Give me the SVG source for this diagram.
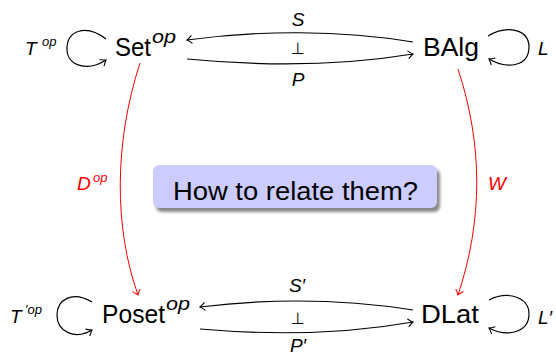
<svg xmlns="http://www.w3.org/2000/svg" width="556" height="357" viewBox="0 0 556 357">
<style>
.node{font-family:"Liberation Sans",Arial,sans-serif;font-size:26px;fill:#000}
.sup{font-family:"Liberation Sans",Arial,sans-serif;font-size:18px;font-style:italic;fill:#000}
.lab{font-family:"Liberation Sans",Arial,sans-serif;font-size:19px;font-style:italic;fill:#000}
.labsup{font-family:"Liberation Sans",Arial,sans-serif;font-size:13px;font-style:italic;fill:#000}
.red{fill:#ff0000}
.sym{font-family:"DejaVu Sans",sans-serif;font-size:16px;fill:#000}
.arr{fill:none;stroke:#000;stroke-width:1.2}
.rarr{fill:none;stroke:#ff0000;stroke-width:1}
</style>
<defs>
<marker id="hb" viewBox="-6 -5 8 10" markerWidth="8" markerHeight="10" refX="0" refY="0" orient="auto" markerUnits="userSpaceOnUse">
<path d="M -5,-4 Q -1.5,-0.8 0,0 Q -1.5,0.8 -5,4" fill="none" stroke="#000" stroke-width="1.1"/>
</marker>
<marker id="hr" viewBox="-6 -5 8 10" markerWidth="8" markerHeight="10" refX="0" refY="0" orient="auto" markerUnits="userSpaceOnUse">
<path d="M -5,-4 Q -1.5,-0.8 0,0 Q -1.5,0.8 -5,4" fill="none" stroke="#ff0000" stroke-width="1"/>
</marker>
<filter id="sh" x="-10%" y="-30%" width="120%" height="160%">
<feGaussianBlur stdDeviation="1.6"/>
</filter>
</defs>

<g id="connectors">
<path class="arr" d="M 413 42 C 340 30, 260 30, 187 40" marker-end="url(#hb)"/>
<path class="arr" d="M 187 59 C 260 66, 340 66, 413 54" marker-end="url(#hb)"/>
<path class="arr" d="M 413 310 C 340 298.5, 270 298.5, 200 307" marker-end="url(#hb)"/>
<path class="arr" d="M 200 329 C 270 335, 340 335, 413 322" marker-end="url(#hb)"/>
<path class="arr" d="M 106 39 C 86 24, 67 30, 67 49 C 67 66, 88 72, 106 60" marker-end="url(#hb)"/>
<path class="arr" d="M 488 36 C 508 24, 529 30, 529 47 C 529 66, 508 70, 489 59" marker-end="url(#hb)"/>
<path class="arr" d="M 92 302 C 72 290, 57 300, 57 315 C 57 332, 75 340, 92 330" marker-end="url(#hb)"/>
<path class="arr" d="M 489 300 C 509 290, 529 298, 529 314 C 529 332, 508 338, 489 328" marker-end="url(#hb)"/>
<path class="rarr" d="M 140 63 C 114 143, 114 228, 138 295" marker-end="url(#hr)"/>
<path class="rarr" d="M 458 69 C 483 145, 483 220, 458 295" marker-end="url(#hr)"/>
<text class="lab" x="298" y="26" text-anchor="middle">S</text>
<text class="sym" x="298" y="54" text-anchor="middle">⊥</text>
<text class="lab" x="298" y="86" text-anchor="middle">P</text>
<text class="lab" x="297" y="292" text-anchor="middle">S′</text>
<text class="sym" x="298" y="324" text-anchor="middle">⊥</text>
<text class="lab" x="298" y="352" text-anchor="middle">P′</text>
<text class="lab" x="25" y="55">T</text><text class="labsup" x="42" y="46">op</text>
<text class="lab" x="538" y="55">L</text>
<text class="lab" x="10" y="323">T</text><text class="labsup" x="25" y="314">′op</text>
<text class="lab" x="538" y="324">L′</text>
<text class="lab red" x="77" y="190">D</text><text class="labsup red" x="93" y="182">op</text>
<text class="lab red" x="488" y="190">W</text>
</g>

<g id="set">
<text class="node" x="115" y="56" textLength="36" lengthAdjust="spacingAndGlyphs">Set</text>
<text class="sup" x="152" y="43" textLength="24" lengthAdjust="spacingAndGlyphs">op</text>
</g>
<g id="balg">
<text class="node" x="423" y="56" textLength="56" lengthAdjust="spacingAndGlyphs">BAlg</text>
</g>
<g id="poset">
<text class="node" x="102" y="323" textLength="63" lengthAdjust="spacingAndGlyphs">Poset</text>
<text class="sup" x="166" y="310" textLength="24" lengthAdjust="spacingAndGlyphs">op</text>
</g>
<g id="dlat">
<text class="node" x="421" y="323" textLength="58" lengthAdjust="spacingAndGlyphs">DLat</text>
</g>
<g id="question">
<rect x="156" y="169" width="284" height="43" rx="6" fill="#555" opacity="0.7" filter="url(#sh)"/>
<rect x="153" y="165" width="284" height="43" rx="6" fill="#ccccff"/>
<text class="node" x="173" y="200" textLength="245" lengthAdjust="spacingAndGlyphs">How to relate them?</text>
</g>
</svg>
